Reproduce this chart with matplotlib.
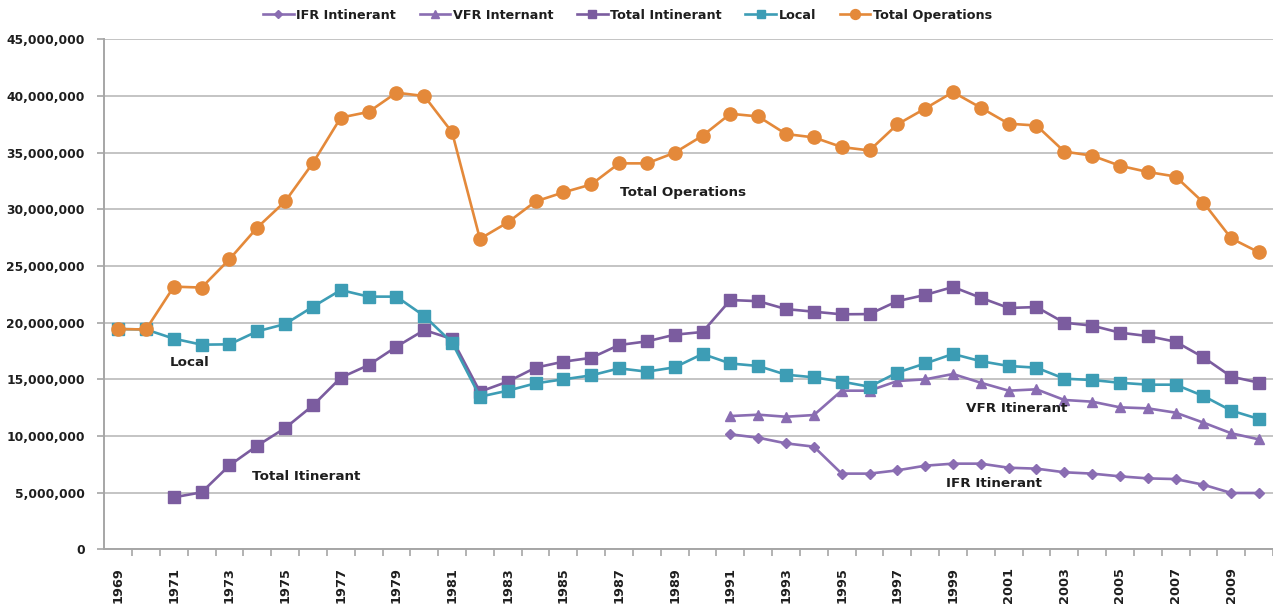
import matplotlib
matplotlib.use('Agg')
import matplotlib.pyplot as plt
from matplotlib.ticker import FuncFormatter, MultipleLocator
import numpy as np

TEXT_COLOR = '#1e1e1e'
GRID_COLOR = '#c4c4c4'
AXIS_COLOR = '#a6a6a6'

plt.rcParams['font.family'] = ['DejaVu Sans']
plt.rcParams['font.weight'] = 'bold'
plt.rcParams['text.color'] = TEXT_COLOR

years = list(range(1969, 2011))
years_91 = list(range(1991, 2011))

total_operations = [19.44, 19.40, 23.18, 23.10, 25.60, 28.40, 30.70, 34.10, 38.10, 38.60,
                    40.30, 40.00, 36.80, 27.40, 28.85, 30.70, 31.50, 32.20, 34.06, 34.06,
                    35.00, 36.50, 38.44, 38.20, 36.65, 36.35, 35.50, 35.20, 37.50, 38.90,
                    40.35, 38.97, 37.56, 37.40, 35.10, 34.74, 33.85, 33.30, 32.90, 30.60,
                    27.44, 26.20]
local = [19.44, 19.40, 18.59, 18.06, 18.09, 19.24, 19.88, 21.41, 22.88, 22.30,
         22.30, 20.59, 18.24, 13.47, 14.00, 14.65, 15.00, 15.35, 15.97, 15.68,
         16.06, 17.24, 16.40, 16.18, 15.41, 15.18, 14.80, 14.35, 15.60, 16.40,
         17.24, 16.60, 16.18, 16.03, 15.06, 14.94, 14.70, 14.53, 14.53, 13.53,
         12.24, 11.50]
total_itinerant = [np.nan, np.nan, 4.59, 5.03, 7.41, 9.15, 10.70, 12.70, 15.15, 16.26,
                   17.88, 19.35, 18.56, 13.91, 14.80, 16.03, 16.56, 16.90, 18.03, 18.35,
                   18.94, 19.18, 22.00, 21.90, 21.20, 20.97, 20.74, 20.76, 21.90, 22.45,
                   23.15, 22.20, 21.30, 21.38, 20.00, 19.74, 19.12, 18.82, 18.32, 16.94,
                   15.24, 14.70]
vfr_itinerant = [11.76, 11.88, 11.70, 11.85, 14.00, 14.00, 14.85, 15.00, 15.47, 14.70,
                 14.00, 14.12, 13.18, 13.03, 12.53, 12.44, 12.06, 11.18, 10.24, 9.70]
ifr_itinerant = [10.15, 9.85, 9.35, 9.06, 6.68, 6.68, 6.97, 7.38, 7.56, 7.56,
                 7.20, 7.12, 6.80, 6.68, 6.44, 6.26, 6.20, 5.70, 4.97, 4.97]

MIL = 1e6
fig = plt.figure(figsize=(12.73, 6.09), dpi=100)
ax = fig.add_axes([0.0819, 0.098, 0.9181, 0.8373])

ax.plot(years_91, np.array(ifr_itinerant) * MIL, color='#8a6db2', lw=1.9,
        marker='D', ms=5.5, label='IFR Intinerant')
ax.plot(years_91, np.array(vfr_itinerant) * MIL, color='#8a6db2', lw=1.9,
        marker='^', ms=7.5, label='VFR Internant')
ax.plot(years, np.array(total_itinerant) * MIL, color='#7b5c9f', lw=1.9,
        marker='s', ms=8, label='Total Intinerant')
ax.plot(years, np.array(local) * MIL, color='#3d9db5', lw=1.9,
        marker='s', ms=8, label='Local')
ax.plot(years, np.array(total_operations) * MIL, color='#e4893a', lw=1.9,
        marker='o', ms=9.5, label='Total Operations')

ax.set_ylim(0, 45 * MIL)
ax.set_xlim(1968.5, 2010.39)
ax.yaxis.set_major_locator(MultipleLocator(5 * MIL))
ax.yaxis.set_major_formatter(FuncFormatter(lambda v, p: '{:,.0f}'.format(v)))
ax.grid(axis='y', color=GRID_COLOR, lw=1.4)
ax.set_axisbelow(True)

ax.set_xticks(years[::2])
ax.set_xticks([y + 0.5 for y in years], minor=True)
ax.tick_params(axis='x', which='major', length=0, pad=13, labelrotation=90,
               labelsize=9.3, labelcolor=TEXT_COLOR)
ax.tick_params(axis='x', which='minor', length=5, width=1.2, color=AXIS_COLOR)
ax.tick_params(axis='y', length=5, width=1.2, color=AXIS_COLOR, pad=9,
               labelsize=8.8, labelcolor=TEXT_COLOR)

for side in ['top', 'right']:
    ax.spines[side].set_visible(False)
for side in ['left', 'bottom']:
    ax.spines[side].set_color(AXIS_COLOR)
    ax.spines[side].set_linewidth(1.4)

ax.text(1989.3, 31.45 * MIL, 'Total Operations', ha='center', va='center', fontsize=9.7)
ax.text(1971.55, 16.53 * MIL, 'Local', ha='center', va='center', fontsize=9.7)
ax.text(1975.74, 6.47 * MIL, 'Total Itinerant', ha='center', va='center', fontsize=9.7)
ax.text(2001.3, 12.47 * MIL, 'VFR Itinerant', ha='center', va='center', fontsize=9.7)
ax.text(2000.47, 5.85 * MIL, 'IFR Itinerant', ha='center', va='center', fontsize=9.7)

fig.legend(loc='center', bbox_to_anchor=(0.493, 0.975), ncol=5, frameon=False,
           fontsize=9.2, handlelength=2.4, handletextpad=0.2, columnspacing=1.85,
           markerscale=0.75)

fig.savefig('out.png', dpi=100)
